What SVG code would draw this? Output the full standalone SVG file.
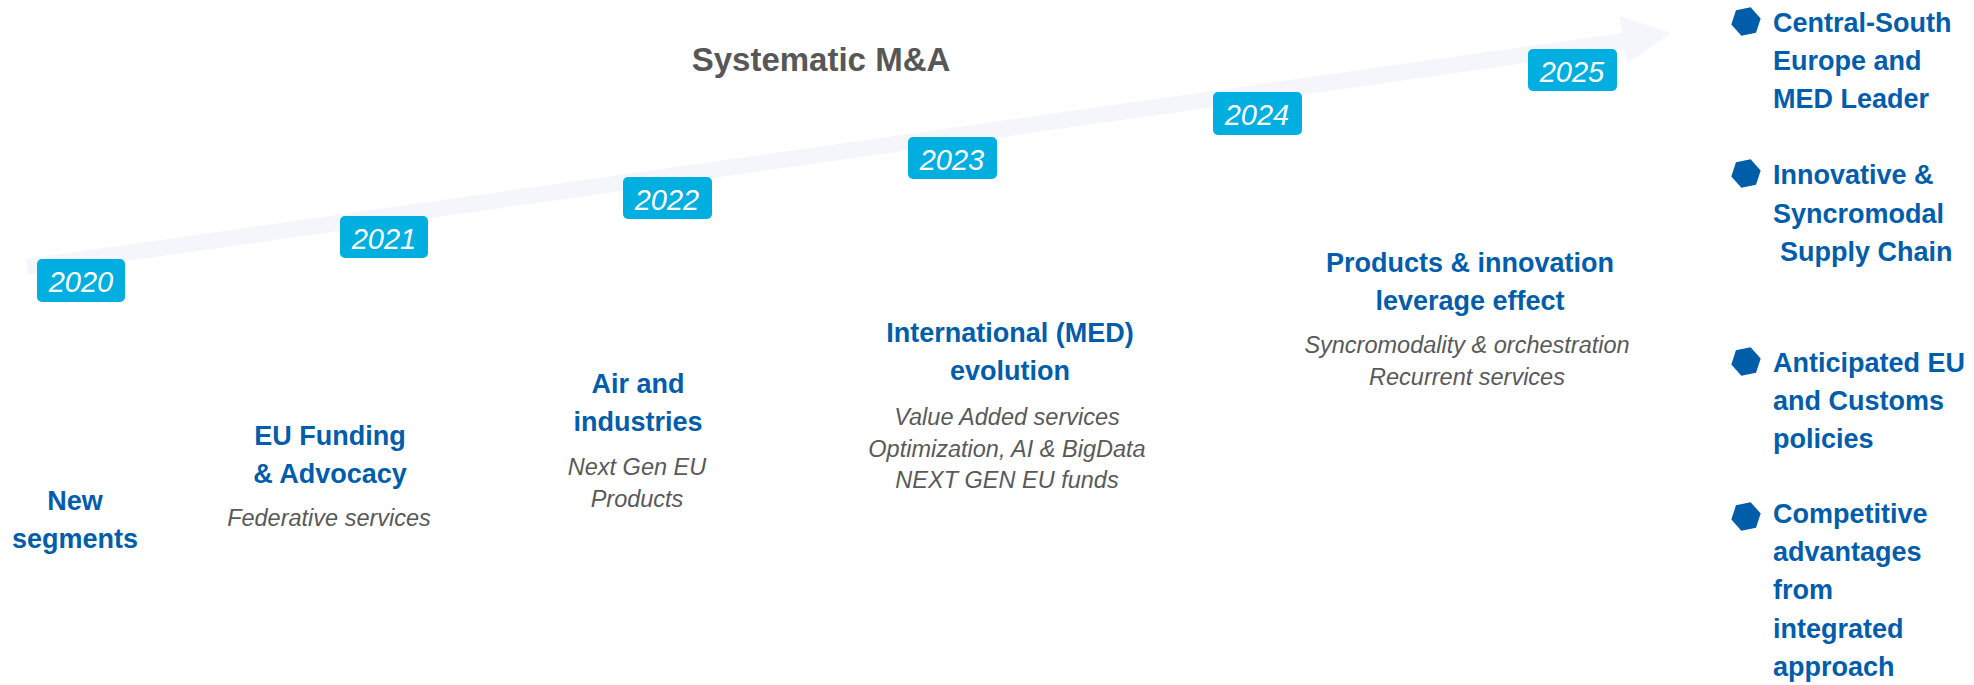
<svg xmlns="http://www.w3.org/2000/svg" width="1974" height="685" viewBox="0 0 1974 685">
  <style>
    .yr { fill: #00AEDF; }
    .yt { font-family: "Liberation Sans", Arial, sans-serif; font-style: italic; font-size: 29px; fill: #FFFFFF; text-anchor: middle; }
    .hd { font-family: "Liberation Sans", Arial, sans-serif; font-weight: bold; font-size: 27px; fill: #005DAA; text-anchor: middle; }
    .sub { font-family: "Liberation Sans", Arial, sans-serif; font-style: italic; font-size: 23.5px; fill: #595959; text-anchor: middle; }
    .out { font-family: "Liberation Sans", Arial, sans-serif; font-weight: bold; font-size: 27px; fill: #005DAA; }
    .hex { fill: #005DAA; }
    .title { font-family: "Liberation Sans", Arial, sans-serif; font-weight: bold; font-size: 33px; fill: #575757; text-anchor: middle; }
  </style>
  <defs>
    <polygon id="hexagon" class="hex" points="15,0 7.5,13 -7.5,13 -15,0 -7.5,-13 7.5,-13" transform="rotate(-12)"/>
  </defs>
  <rect width="1974" height="685" fill="#FFFFFF"/>

  <g id="connectors">
    <polygon id="timeline-arrow" fill="#F4F6FB" points="26,259 1622,33 1620,16 1671,33 1628,63 1624,49 28,275"/>
  </g>

  <g id="title">
    <text class="title" x="821" y="71">Systematic M&amp;A</text>
  </g>

  <g id="year-2020"><rect class="yr" x="37" y="259" width="88" height="43" rx="5"/><text class="yt" x="81" y="292">2020</text></g>
  <g id="year-2021"><rect class="yr" x="340" y="216" width="88" height="42" rx="5"/><text class="yt" x="384" y="249">2021</text></g>
  <g id="year-2022"><rect class="yr" x="623" y="177" width="89" height="42" rx="5"/><text class="yt" x="667" y="210">2022</text></g>
  <g id="year-2023"><rect class="yr" x="908" y="137" width="89" height="42" rx="5"/><text class="yt" x="952" y="170">2023</text></g>
  <g id="year-2024"><rect class="yr" x="1213" y="92" width="89" height="43" rx="5"/><text class="yt" x="1257" y="125">2024</text></g>
  <g id="year-2025"><rect class="yr" x="1528" y="49" width="89" height="42" rx="5"/><text class="yt" x="1572" y="82">2025</text></g>

  <g id="step-new-segments">
    <text class="hd" x="75" y="510">New</text>
    <text class="hd" x="75" y="548">segments</text>
  </g>
  <g id="step-eu-funding">
    <text class="hd" x="330" y="445">EU Funding</text>
    <text class="hd" x="330" y="483">&amp; Advocacy</text>
    <text class="sub" x="329" y="526">Federative services</text>
  </g>
  <g id="step-air-industries">
    <text class="hd" x="638" y="393">Air and</text>
    <text class="hd" x="638" y="431">industries</text>
    <text class="sub" x="637" y="475">Next Gen EU</text>
    <text class="sub" x="637" y="507">Products</text>
  </g>
  <g id="step-international">
    <text class="hd" x="1010" y="342">International (MED)</text>
    <text class="hd" x="1010" y="380">evolution</text>
    <text class="sub" x="1007" y="425">Value Added services</text>
    <text class="sub" x="1007" y="457">Optimization, AI &amp; BigData</text>
    <text class="sub" x="1007" y="488">NEXT GEN EU funds</text>
  </g>
  <g id="step-products-innovation">
    <text class="hd" x="1470" y="272">Products &amp; innovation</text>
    <text class="hd" x="1470" y="310">leverage effect</text>
    <text class="sub" x="1467" y="353">Syncromodality &amp; orchestration</text>
    <text class="sub" x="1467" y="385">Recurrent services</text>
  </g>

  <g id="outcome-leader">
    <use href="#hexagon" x="1746" y="21.5"/>
    <text class="out" x="1773" y="32">Central-South</text>
    <text class="out" x="1773" y="70">Europe and</text>
    <text class="out" x="1773" y="108">MED Leader</text>
  </g>
  <g id="outcome-supply-chain">
    <use href="#hexagon" x="1746" y="173.5"/>
    <text class="out" x="1773" y="184">Innovative &amp;</text>
    <text class="out" x="1773" y="223">Syncromodal</text>
    <text class="out" x="1780" y="261">Supply Chain</text>
  </g>
  <g id="outcome-policies">
    <use href="#hexagon" x="1746" y="361.5"/>
    <text class="out" x="1773" y="372">Anticipated EU</text>
    <text class="out" x="1773" y="410">and Customs</text>
    <text class="out" x="1773" y="448">policies</text>
  </g>
  <g id="outcome-competitive">
    <use href="#hexagon" x="1746" y="516.5"/>
    <text class="out" x="1773" y="523">Competitive</text>
    <text class="out" x="1773" y="561">advantages</text>
    <text class="out" x="1773" y="599">from</text>
    <text class="out" x="1773" y="638">integrated</text>
    <text class="out" x="1773" y="676">approach</text>
  </g>
</svg>
